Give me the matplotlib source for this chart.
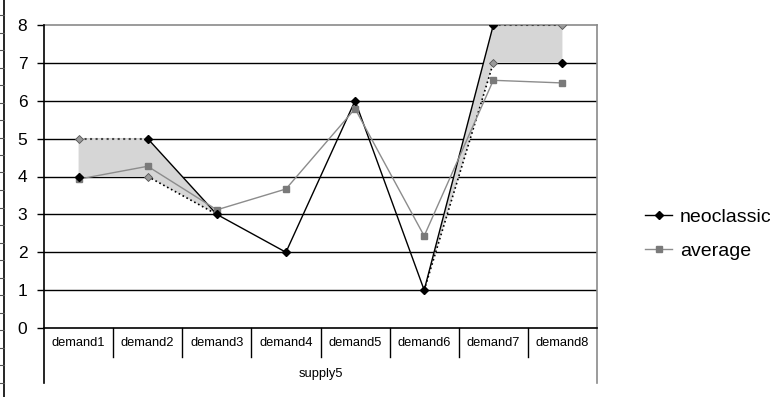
import numpy as np
import matplotlib
matplotlib.use('Agg')
import matplotlib.pyplot as plt
from matplotlib.lines import Line2D

plt.rcParams['font.family'] = ['Liberation Sans', 'DejaVu Sans']

# Data
categories = ['demand1', 'demand2', 'demand3', 'demand4',
              'demand5', 'demand6', 'demand7', 'demand8']
group_label = 'supply5'
neoclassic = [4, 5, 3, 2, 6, 1, 8, 7]
neo_alt = [5, 4, np.nan, np.nan, np.nan, np.nan, 7, 8]   # other end of range
average = [3.93, 4.27, 3.12, 3.67, 5.79, 2.43, 6.54, 6.47]

x = np.arange(len(categories))
neo = np.array(neoclassic, dtype=float)
alt = np.array(neo_alt, dtype=float)
upper = np.where(np.isnan(alt), neo, np.maximum(neo, alt))
lower = np.where(np.isnan(alt), neo, np.minimum(neo, alt))

fig = plt.figure(figsize=(7.7, 3.97), dpi=100)
ax = fig.add_axes([44/770, 1 - 328/397, 553/770, 303/397])
ax.set_xlim(-0.5, len(categories) - 0.5)
ax.set_ylim(0, 8)

# gridlines
for yv in range(1, 8):
    ax.axhline(yv, color='black', lw=1.0, zorder=1)

# shaded range of the neoclassic prediction
ax.fill_between(x, lower, upper, facecolor='#d6d6d6', edgecolor='none',
                zorder=1.5)

# neoclassic: solid where single valued, dotted range edges
ax.plot(x[1:7], upper[1:7], color='black', lw=1.0, zorder=3)
ax.plot(x[1:3], lower[1:3], color='black', lw=1.2, ls=':', zorder=3)
ax.plot(x[5:7], lower[5:7], color='black', lw=1.2, ls=':', zorder=3)
ax.plot(x[0:2], upper[0:2], color='#444444', lw=1.5, ls=':', zorder=3)
ax.plot(x[6:8], upper[6:8], color='#444444', lw=1.5, ls=':', zorder=3)
ax.plot(x, neo, ls='none', marker='D', ms=4.5, color='black', zorder=5)
ax.plot(x, alt, ls='none', marker='D', ms=4.5, color='#9a9a9a',
        markeredgecolor='#555555', markeredgewidth=0.6, zorder=5)

# average
ax.plot(x, average, color='#8c8c8c', lw=1.0, marker='s', ms=4.5,
        markerfacecolor='#7a7a7a', markeredgecolor='#7a7a7a', zorder=4)

# frame
for s in ['left', 'top', 'right']:
    ax.spines[s].set_visible(False)
ax.spines['bottom'].set_color('black')
ax.spines['bottom'].set_linewidth(1.2)
ax.plot([0, 1], [1, 1], transform=ax.transAxes, color='#8a8a8a', lw=1.2,
        clip_on=False, zorder=2)
ax.plot([1, 1], [1, -0.1815], transform=ax.transAxes, color='#8a8a8a',
        lw=1.2, clip_on=False)
ax.plot([0, 0], [1, -0.1815], transform=ax.transAxes, color='black',
        lw=1.2, clip_on=False)

# y axis
ax.set_yticks(range(0, 9))
ax.tick_params(axis='y', length=5, width=1, pad=7, labelsize=12.5,
               direction='out')

# category axis
ax.set_xticks([])
trans = ax.get_xaxis_transform()
for b in np.arange(0.5, len(categories) - 1, 1.0):
    ax.plot([b, b], [0, -0.0957], transform=trans, color='black', lw=1.0,
            clip_on=False)
for xi, lab in zip(x, categories):
    ax.text(xi, -0.0495, lab, transform=trans, ha='center', va='center',
            fontsize=9.3)
ax.text(x.mean(), -0.152, group_label, transform=trans, ha='center',
        va='center', fontsize=9.3)

# stray axis at the far left of the screenshot
fig.add_artist(Line2D([4/770, 4/770], [0, 1], color='black', lw=1.2))
for yy in np.arange(15, 397, 17.5):
    fig.add_artist(Line2D([0, 4/770], [1 - yy/397, 1 - yy/397],
                          color='#555555', lw=0.8))

# legend
handles = [
    Line2D([], [], color='black', lw=1.0, marker='D', ms=4),
    Line2D([], [], color='#8c8c8c', lw=1.0, marker='s', ms=4,
           markerfacecolor='#7a7a7a', markeredgecolor='#7a7a7a'),
]
fig.legend(handles, ['neoclassic', 'average'], loc='center left',
           bbox_to_anchor=(645/770, 1 - 234/397), frameon=False,
           fontsize=14, handlelength=1.4, handletextpad=0.4,
           labelspacing=0.85, borderpad=0, borderaxespad=0)

fig.savefig('out.png', dpi=100, facecolor='white')
